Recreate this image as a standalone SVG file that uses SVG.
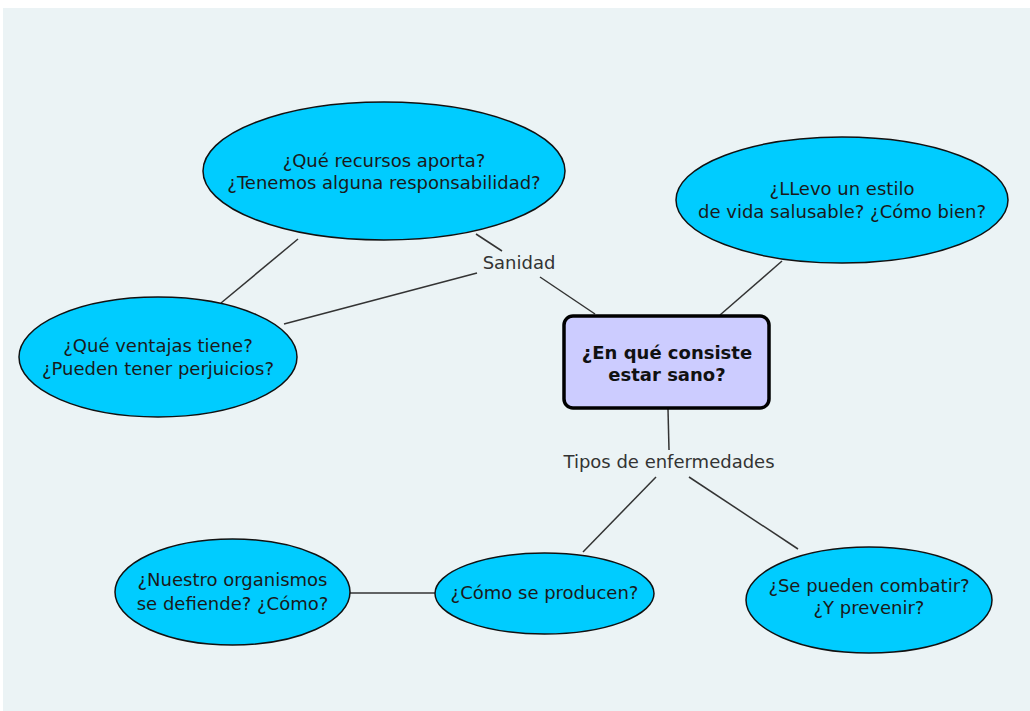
<svg xmlns="http://www.w3.org/2000/svg" width="1030" height="711" viewBox="0 0 1030 711">
<style>
.bg{fill:#ffffff}
.panel{fill:#EBF3F5}
.ell{fill:#00CCFF;stroke:#111;stroke-width:1.5}
.main{fill:#CCCCFF;stroke:#000;stroke-width:3.5}
.t{font-family:"DejaVu Sans",Verdana,sans-serif;font-size:18px;fill:#1a1a1a;text-anchor:middle}
.b{font-weight:bold;fill:#111}
.lbl{font-family:"DejaVu Sans",Verdana,sans-serif;font-size:18px;fill:#333;text-anchor:middle}
.c line{stroke:#333;stroke-width:1.5}
</style>
<rect class="bg" x="0" y="0" width="1030" height="711"/>
<rect class="panel" x="3" y="8" width="1027" height="703"/>
<g id="connectors" class="c">
<line x1="476" y1="234" x2="502" y2="251"/>
<line x1="540" y1="277" x2="595" y2="314"/>
<line x1="477" y1="273" x2="284" y2="324"/>
<line x1="298" y1="239" x2="221" y2="303"/>
<line x1="782" y1="261" x2="720" y2="315"/>
<line x1="668" y1="409" x2="669" y2="450"/>
<line x1="656" y1="477" x2="583" y2="552"/>
<line x1="689" y1="477" x2="798" y2="549"/>
<line x1="350" y1="593" x2="435" y2="593"/>
</g>
<g id="label-sanidad"><text class="lbl" x="519" y="269">Sanidad</text></g>
<g id="label-tipos"><text class="lbl" x="669" y="468">Tipos de enfermedades</text></g>
<g id="node-main">
<rect class="main" x="564" y="316" width="205" height="92" rx="9"/>
<text class="t b" x="667" y="359">¿En qué consiste</text>
<text class="t b" x="667" y="381">estar sano?</text>
</g>
<g id="node-recursos">
<ellipse class="ell" cx="384" cy="171" rx="181" ry="69"/>
<text class="t" x="384" y="167">¿Qué recursos aporta?</text>
<text class="t" x="384" y="189">¿Tenemos alguna responsabilidad?</text>
</g>
<g id="node-llevo">
<ellipse class="ell" cx="842" cy="200" rx="166" ry="63"/>
<text class="t" x="842" y="195">¿LLevo un estilo</text>
<text class="t" x="842" y="218">de vida salusable? ¿Cómo bien?</text>
</g>
<g id="node-ventajas">
<ellipse class="ell" cx="158" cy="357" rx="139" ry="60"/>
<text class="t" x="158" y="352">¿Qué ventajas tiene?</text>
<text class="t" x="158" y="375">¿Pueden tener perjuicios?</text>
</g>
<g id="node-producen">
<ellipse class="ell" cx="544.5" cy="593.5" rx="109.5" ry="40.5"/>
<text class="t" x="544.5" y="599">¿Cómo se producen?</text>
</g>
<g id="node-organismo">
<ellipse class="ell" cx="232.5" cy="592" rx="117.5" ry="53"/>
<text class="t" x="232.5" y="586">¿Nuestro organismos</text>
<text class="t" x="232.5" y="610">se defiende? ¿Cómo?</text>
</g>
<g id="node-combatir">
<ellipse class="ell" cx="869" cy="600" rx="123" ry="53"/>
<text class="t" x="869" y="592">¿Se pueden combatir?</text>
<text class="t" x="869" y="614">¿Y prevenir?</text>
</g>
</svg>
